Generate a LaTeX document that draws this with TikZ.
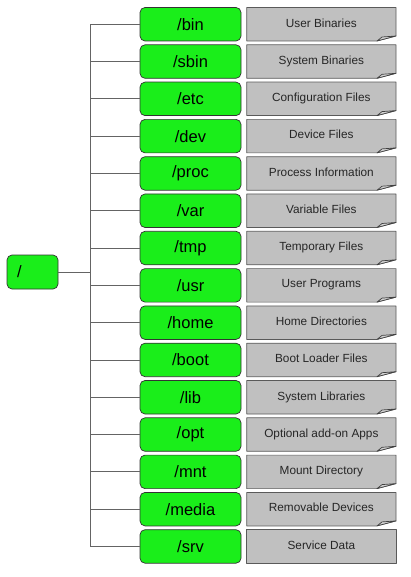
\documentclass[tikz,border=0pt]{standalone}
\usepackage{fontspec}
\setmainfont{Liberation Sans}
\usetikzlibrary{backgrounds}
\definecolor{boxgreen}{RGB}{26,238,26}
\definecolor{notegray}{RGB}{192,192,192}
\definecolor{noteedge}{RGB}{90,90,90}
\definecolor{linegray}{RGB}{100,100,100}
\tikzset{
  dirbox/.style={draw=black!80, fill=boxgreen, rounded corners=5pt, line width=0.7pt,
    minimum width=101pt, minimum height=33.5pt, inner sep=0pt, outer sep=0pt,
    font=\fontsize{16.5}{18}\selectfont},
  rootbox/.style={dirbox, minimum width=51pt, minimum height=34pt, text width=31pt, align=left},
  notebox/.style={minimum width=149.3pt, minimum height=33.5pt, inner sep=0pt, outer sep=0pt,
    font=\fontsize{11.8}{13}\selectfont, text=black!85},
  notefill/.style={fill=notegray, draw=noteedge, line width=0.7pt, line join=round},
  flap/.style={fill=notegray!70, draw=black!75, line width=0.7pt, line join=round},
  conn/.style={draw=linegray, line width=0.8pt}
}
\begin{document}
\begin{tikzpicture}[x=1pt,y=-1pt]
\useasboundingbox (0,0) rectangle (410,577);
\node[rootbox] (root) at (32.5,272) {/};
\coordinate (trunk) at (90,272);
\foreach \n/\d [count=\i from 0] in {bin/User Binaries, sbin/System Binaries, etc/Configuration Files, dev/Device Files, proc/Process Information, var/Variable Files, tmp/Temporary Files, usr/User Programs, home/Home Directories, boot/Boot Loader Files, lib/System Libraries, opt/Optional add-on Apps, mnt/Mount Directory, media/Removable Devices, srv/Service Data}{
  \pgfmathsetmacro{\yy}{24.25+37.3*\i}
  \node[dirbox] (g\i) at (190.5,\yy) {/\n};
  \node[notebox] (d\i) at (321.35,\yy) {\raisebox{3pt}{\d}};
  \coordinate (t\i) at (90,\yy);
  \draw[conn] (t\i) -- (g\i.west);
  \begin{pgfonlayer}{background}
    \ifnum\i<14
    \path[notefill] (d\i.north west) -- (d\i.north east) -- ([yshift=5pt]d\i.south east)
      -- ([xshift=-19pt]d\i.south east) -- (d\i.south west) -- cycle;
    \path[flap] ([xshift=-19pt]d\i.south east) -- ([xshift=-14pt,yshift=4pt]d\i.south east)
      -- ([yshift=5pt]d\i.south east) -- cycle;
    \else
    \path[notefill] (d\i.north west) rectangle (d\i.south east);
    \fi
  \end{pgfonlayer}
}
\draw[conn] (t0) -- (t14);
\draw[conn] (root.east) -- (trunk);
\end{tikzpicture}
\end{document}
